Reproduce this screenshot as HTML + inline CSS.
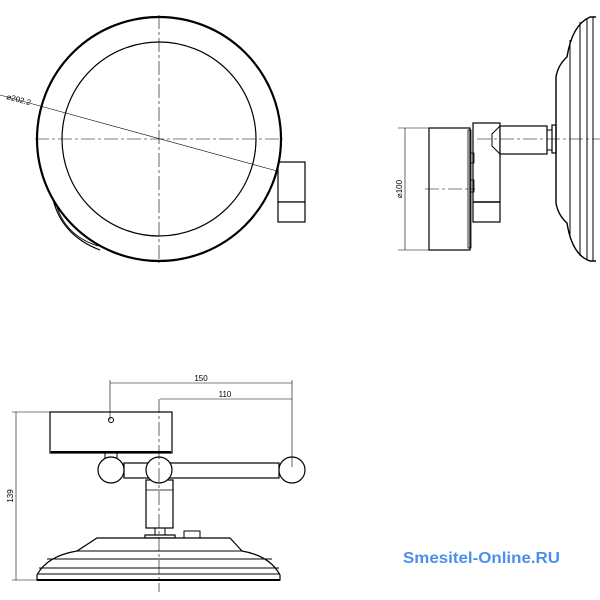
<!DOCTYPE html>
<html><head><meta charset="utf-8"><style>
html,body{margin:0;padding:0;background:#fff;width:600px;height:600px;overflow:hidden}
svg{display:block}
text{font-family:"Liberation Sans",sans-serif}
</style></head><body>
<svg width="600" height="600" viewBox="0 0 600 600" xmlns="http://www.w3.org/2000/svg">
<g fill="none" stroke="#000">
<!-- Top-left view -->
<path d="M52,195 Q60,235 100,250" stroke-width="1.2"/>
<path d="M55,200 Q63,235 98,246" stroke-width="0.8"/>
<rect x="278" y="162" width="27" height="40" stroke-width="1.2" fill="#fff"/>
<rect x="278" y="202" width="27" height="20" stroke-width="1.2" fill="#fff"/>
<circle cx="159" cy="139" r="122" stroke-width="2.2" fill="#fff"/>
<circle cx="159" cy="139" r="97" stroke-width="1.2"/>
<path d="M159,15V263M35,139H283" stroke-width="0.6" stroke-dasharray="14,3,3,3"/>
<path d="M0,95L277,171" stroke-width="0.6"/>
<!-- Right view -->
<path d="M596,17 H590 Q572,25 567,57 Q558,65 556,77 V203 Q558,215 567,223 Q572,255 590,261 H596" stroke-width="1.4" fill="#fff"/>
<path d="M570,40V238M580,22V256M587,18V260M593,17V261" stroke-width="1"/>
<rect x="429" y="128" width="41" height="122" stroke-width="1.2" fill="#fff"/>
<rect x="468" y="130" width="3" height="118" stroke-width="0.8"/>
<rect x="473" y="123" width="27" height="99" stroke-width="1.2" fill="#fff"/>
<path d="M473,202H500" stroke-width="1.5"/>
<rect x="500" y="126" width="47" height="28" stroke-width="1.2" fill="#fff"/>
<path d="M500,126 L492,134 V146 L500,154" stroke-width="1"/>
<rect x="547" y="130" width="5" height="20" stroke-width="1"/>
<rect x="552" y="125" width="4" height="28" stroke-width="1.2"/>
<rect x="470" y="153" width="4" height="10" stroke-width="0.8"/>
<rect x="470" y="180" width="4" height="12" stroke-width="0.8"/>
<path d="M477,139H600M425,189H475" stroke-width="0.6" stroke-dasharray="14,3,3,3"/>
<path d="M405,128V250M398,128H429M398,250H429" stroke-width="0.6"/>
<!-- Bottom view -->
<rect x="50" y="412" width="122" height="41" stroke-width="1.2" fill="#fff"/>
<path d="M51,452H171" stroke-width="2"/>
<circle cx="111" cy="420" r="2.5" stroke-width="1"/>
<rect x="105" y="453" width="12" height="5" stroke-width="1"/>
<rect x="124" y="463" width="155" height="15" stroke-width="1.2" fill="#fff"/>
<rect x="146" y="480" width="27" height="48" stroke-width="1.2" fill="#fff"/>
<path d="M146,490H173" stroke-width="0.8"/>
<circle cx="111" cy="470" r="13" stroke-width="1.2" fill="#fff"/>
<circle cx="159" cy="470" r="13" stroke-width="1.2" fill="#fff"/>
<circle cx="292" cy="470" r="13" stroke-width="1.2" fill="#fff"/>
<rect x="155" y="528" width="10" height="7" stroke-width="1"/>
<rect x="145" y="535" width="30" height="3" stroke-width="1.2"/>
<rect x="184" y="531" width="16" height="7" stroke-width="1"/>
<path d="M97,538H230L242,551Q270,556 280,575V580H37V575Q47,556 77,551Z" stroke-width="1.2" fill="#fff"/>
<path d="M77,551H242M47,559H272M39,568H279M37,574H280" stroke-width="1"/>
<path d="M37,580H280" stroke-width="2"/>
<path d="M159,399V592" stroke-width="0.6" stroke-dasharray="14,3,3,3"/>
<path d="M110,380V420M292,380V467M110,383H292M160,399H292M16,412V580M12,412H50M12,580H37" stroke-width="0.6"/>
</g>
<text x="0" y="0" font-size="8" transform="translate(6,99) rotate(15)" fill="#000">⌀202.2</text>
<text font-size="8" text-anchor="middle" transform="translate(402,189) rotate(-90)" fill="#000">⌀100</text>
<text font-size="8" text-anchor="middle" transform="translate(13,496) rotate(-90)" fill="#000">139</text>
<text x="201" y="381" font-size="8" text-anchor="middle">150</text>
<text x="225" y="397" font-size="8" text-anchor="middle">110</text>
<text x="403" y="563" font-size="16" font-weight="bold" fill="#4a90e8" textLength="157" lengthAdjust="spacingAndGlyphs">Smesitel-Online.RU</text>
</svg>
</body></html>
